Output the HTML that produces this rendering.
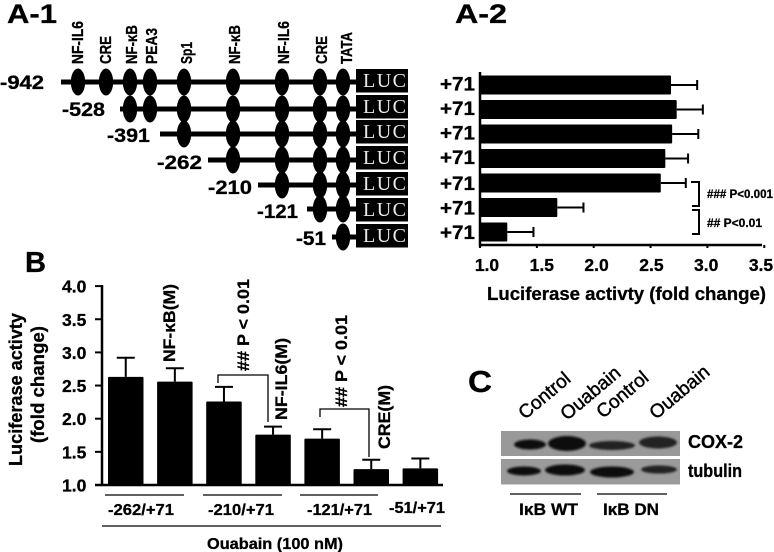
<!DOCTYPE html>
<html lang="en">
<head>
<meta charset="utf-8">
<title>Luciferase activity figure</title>
<style>
html,body{margin:0;padding:0;background:#fff;width:774px;height:552px;overflow:hidden}
svg{display:block}
text{font-family:"Liberation Sans",Arial,sans-serif;font-weight:bold;fill:#000;stroke:#000;stroke-width:.3}
text.reg{font-weight:normal;stroke-width:.45}
.thin{fill:none;stroke:#000;stroke-width:1.3}
.med{fill:none;stroke:#000;stroke-width:2}
</style>
</head>
<body>
<svg id="fig" xmlns="http://www.w3.org/2000/svg" width="774" height="552" viewBox="0 0 774 552">
<defs>
<filter id="soft" x="-20%" y="-60%" width="140%" height="220%"><feGaussianBlur stdDeviation="1.1"/></filter>
</defs>
<rect width="774" height="552" fill="#fff"/>

<text x="7" y="23" font-size="27" textLength="50" lengthAdjust="spacingAndGlyphs">A-1</text>
<text x="455" y="23" font-size="27" textLength="52" lengthAdjust="spacingAndGlyphs">A-2</text>
<text x="25" y="272" font-size="29" textLength="21" lengthAdjust="spacingAndGlyphs">B</text>
<text x="468" y="392" font-size="31" textLength="24" lengthAdjust="spacingAndGlyphs">C</text>

<g id="a1"></g>
<g id="a2"></g>

<text x="487" y="300" font-size="18.500" textLength="279" lengthAdjust="spacingAndGlyphs">Luciferase activty (fold change)</text>
<path class="med" d="M691 182H699V206H692"/>
<path class="med" d="M692 210H699V234H692"/>
<text x="707" y="198" font-size="12" textLength="66" lengthAdjust="spacingAndGlyphs">### P&lt;0.001</text>
<text x="707" y="227" font-size="12" textLength="55" lengthAdjust="spacingAndGlyphs">## P&lt;0.01</text>

<g id="b"></g>

<text transform="translate(22,466) rotate(-90)" font-size="18" textLength="153" lengthAdjust="spacingAndGlyphs">Luciferase activty</text>
<text transform="translate(44,443) rotate(-90)" font-size="18" textLength="117" lengthAdjust="spacingAndGlyphs">(fold change)</text>

<text transform="translate(175,362) rotate(-90)" font-size="17" textLength="78" lengthAdjust="spacingAndGlyphs">NF-κB(M)</text>
<text transform="translate(249,371) rotate(-90)" font-size="17" textLength="92" lengthAdjust="spacingAndGlyphs">## P &lt; 0.01</text>
<text transform="translate(287,420) rotate(-90)" font-size="17" textLength="82" lengthAdjust="spacingAndGlyphs">NF-IL6(M)</text>
<text transform="translate(347,407) rotate(-90)" font-size="17" textLength="92" lengthAdjust="spacingAndGlyphs">## P &lt; 0.01</text>
<text transform="translate(390,449) rotate(-90)" font-size="17" textLength="64" lengthAdjust="spacingAndGlyphs">CRE(M)</text>
<path class="thin" d="M218 383V375H268V422"/>
<path class="thin" d="M320 417V409H369V457"/>

<path class="thin" d="M105 495H184"/>
<path class="thin" d="M203 495H282"/>
<path class="thin" d="M300 495H378"/>
<path class="thin" d="M102 526H441"/>
<text x="207" y="549" font-size="16" textLength="136" lengthAdjust="spacingAndGlyphs">Ouabain (100 nM)</text>

<g id="blot">
<rect x="501" y="431" width="179" height="25" fill="#999"/>
<rect x="501" y="459" width="179" height="25.500" fill="#9b9b9b"/>
<g filter="url(#soft)" fill="#111">
<ellipse cx="530" cy="444.500" rx="16" ry="5"/>
<ellipse cx="567" cy="443.500" rx="19" ry="7.500"/>
<ellipse cx="612" cy="445.500" rx="23" ry="4.500" fill="#222"/>
<ellipse cx="658" cy="442.500" rx="19" ry="6" fill="#222"/>
<ellipse cx="524" cy="471" rx="17" ry="4.500"/>
<ellipse cx="565" cy="470" rx="20" ry="5.500"/>
<ellipse cx="612" cy="472" rx="22" ry="5.500"/>
<ellipse cx="659" cy="469.500" rx="18" ry="4" fill="#222"/>
</g>
</g>

<text class="reg" transform="translate(525,420) rotate(-40)" font-size="19">Control</text>
<text class="reg" transform="translate(567,421) rotate(-40)" font-size="19">Ouabain</text>
<text class="reg" transform="translate(603,419) rotate(-40)" font-size="19">Control</text>
<text class="reg" transform="translate(656,420) rotate(-40)" font-size="19">Ouabain</text>
<text x="688" y="448" font-size="18" textLength="55" lengthAdjust="spacingAndGlyphs">COX-2</text>
<text x="688" y="477" font-size="18" textLength="54" lengthAdjust="spacingAndGlyphs">tubulin</text>
<path class="thin" d="M510 494H581"/>
<path class="thin" d="M597 494H667"/>
<text x="519" y="515" font-size="17" textLength="59" lengthAdjust="spacingAndGlyphs">IκB WT</text>
<text x="603" y="515" font-size="17" textLength="56" lengthAdjust="spacingAndGlyphs">IκB DN</text>
</svg>

<script>
// Panel A-2 data
const a2RowLabels = ['+71', '+71', '+71', '+71', '+71', '+71', '+71'];
const a2Values = [2.68, 2.73, 2.69, 2.63, 2.59, 1.68, 1.24];
const a2Errors = [2.91, 2.96, 2.92, 2.83, 2.81, 1.91, 1.47];
const a2Ticks = [1.0, 1.5, 2.0, 2.5, 3.0, 3.5];

// Panel B data
const bCategories = ['-262/+71', '-262/+71 NF-kB(M)', '-210/+71', '-210/+71 NF-IL6(M)', '-121/+71', '-121/+71 CRE(M)', '-51/+71'];
const bValues = [2.63, 2.56, 2.26, 1.76, 1.70, 1.24, 1.25];
const bErrors = [2.92, 2.76, 2.48, 1.88, 1.84, 1.38, 1.40];
const bTicks = [1.0, 1.5, 2.0, 2.5, 3.0, 3.5, 4.0];
const bGroupLabels = ['-262/+71', '-210/+71', '-121/+71', '-51/+71'];

// Panel A-1 schematic
const siteNames = ['NF-IL6', 'CRE', 'NF-κB', 'PEA3', 'Sp1', 'NF-κB', 'NF-IL6', 'CRE', 'TATA'];
const constructLabels = ['-942', '-528', '-391', '-262', '-210', '-121', '-51'];
const constructFirstSite = [0, 2, 4, 5, 6, 7, 8];

const NS = 'http://www.w3.org/2000/svg';
function make(parent, tag, name, attrs) {
  const el = document.createElementNS(NS, tag);
  
  
  for (const k in attrs) el.setAttribute(k, attrs[k]);
  parent.appendChild(el);
  return el;
}
function label(parent, name, str, attrs) {
  const el = make(parent, 'text', name, attrs);
  el.textContent = str;
  return el;
}

/* ---------- A-1 ---------- */
(function () {
  const g = document.getElementById('a1');
  const siteX = [78, 106, 130, 150, 184, 233, 282, 320, 343];
  const siteLabelX = [83, 111, 137, 157, 192, 240, 289, 327, 352];
  const siteLabelLen = [43, 28, 39, 36, 22, 39, 43, 28, 32];
  const rowY = [82, 109, 134, 160, 185, 209, 237];
  const boxY = [69, 95, 120, 146, 172, 198, 224];
  const lineStart = [61, 120, 160, 208, 258, 307, 332];
  const labelX = [0, 62, 107, 157, 208, 257, 296];
  const labelLen = [44, 43, 43, 45, 44, 41, 30];
  const labelBase = [89, 116, 142, 169, 194, 218, 245];

  siteNames.forEach(function (s, i) {
    label(g, 'site-label-' + i, s, {
      transform: 'translate(' + siteLabelX[i] + ',64) rotate(-90)',
      'font-size': 16, textLength: siteLabelLen[i], lengthAdjust: 'spacingAndGlyphs'
    });
  });
  constructLabels.forEach(function (s, r) {
    label(g, 'construct-label' + s, s, {
      x: labelX[r], y: labelBase[r], 'font-size': 19,
      textLength: labelLen[r], lengthAdjust: 'spacingAndGlyphs'
    });
    make(g, 'rect', 'construct-line' + s, { x: lineStart[r], y: rowY[r] - 2.5, width: 358 - lineStart[r], height: 5, fill: '#000' });
    for (let i = constructFirstSite[r]; i < siteX.length; i++) {
      make(g, 'ellipse', 'site-' + r + '-' + i, { cx: siteX[i], cy: rowY[r], rx: 7.2, ry: 13.5, fill: '#000' });
    }
    make(g, 'rect', 'luc-box' + s, { x: 356, y: boxY[r], width: 52, height: 23.5, fill: '#000' });
    const t = label(g, 'luc-label' + s, 'LUC', {
      x: 363, y: boxY[r] + 18, 'font-size': 20, textLength: 43, lengthAdjust: 'spacing'
    });
    t.style.fontFamily = '"Liberation Serif",serif';
    t.style.fontWeight = 'normal';
    t.style.fill = '#e8e8e8';
    t.style.stroke = 'none';
  });
})();

/* ---------- A-2 ---------- */
(function () {
  const g = document.getElementById('a2');
  const x = function (v) { return 480 + (v - 1) * 113.7; };
  const tickLabelX = function (v) { return 487 + (v - 1) * 109.6; };
  const y = function (i) { return 85 + i * 24.5; };
  a2Values.forEach(function (v, i) {
    const cy = y(i);
    make(g, 'path', 'a2-error-' + i, {
      d: 'M' + x(v) + ' ' + cy + 'H' + x(a2Errors[i]) + 'M' + x(a2Errors[i]) + ' ' + (cy - 5) + 'V' + (cy + 5),
      fill: 'none', stroke: '#000', 'stroke-width': 2
    });
    make(g, 'rect', 'a2-bar-' + i, { x: x(1), y: cy - 9.5, width: x(v) - x(1), height: 19, rx: 1, fill: '#000' });
    label(g, 'a2-row-label-' + i, a2RowLabels[i], {
      x: 440, y: cy + 5.5 + (i > 3 ? 1.5 : 0), 'font-size': 19, textLength: 35, lengthAdjust: 'spacingAndGlyphs'
    });
  });
  make(g, 'path', 'a2-y-axis', { d: 'M480 72V247', fill: 'none', stroke: '#000', 'stroke-width': 2.5 });
  make(g, 'path', 'a2-x-axis', { d: 'M479 245H762', fill: 'none', stroke: '#000', 'stroke-width': 2.5 });
  a2Ticks.forEach(function (t, i) {
    make(g, 'path', 'a2-x-tick-' + i, { d: 'M' + x(t) + ' 245V248', fill: 'none', stroke: '#000', 'stroke-width': 2 });
    label(g, 'a2-x-tick-label-' + i, t.toFixed(1), {
      x: tickLabelX(t), y: 271, 'font-size': 17.5, 'text-anchor': 'middle'
    });
  });
})();

/* ---------- B ---------- */
(function () {
  const g = document.getElementById('b');
  const y = function (v) { return 485 - (v - 1) * 66.3; };
  const xLeft = function (i) { return 108 + i * 49.1; };
  const w = 35.5;
  bValues.forEach(function (v, i) {
    const cx = xLeft(i) + w / 2;
    make(g, 'path', 'b-error-' + i, {
      d: 'M' + cx + ' ' + y(v) + 'V' + y(bErrors[i]) + 'M' + (cx - 9) + ' ' + y(bErrors[i]) + 'H' + (cx + 9),
      fill: 'none', stroke: '#000', 'stroke-width': 2
    });
    make(g, 'rect', 'b-bar-' + i, { x: xLeft(i), y: y(v), width: w, height: y(1) - y(v), rx: 1, fill: '#000' }).setAttribute('aria-label', bCategories[i]);
  });
  make(g, 'path', 'b-y-axis', { d: 'M102 285V486', fill: 'none', stroke: '#000', 'stroke-width': 2.5 });
  make(g, 'path', 'b-x-axis', { d: 'M95 485H443', fill: 'none', stroke: '#000', 'stroke-width': 2.5 });
  bTicks.forEach(function (t, i) {
    make(g, 'path', 'b-y-tick-' + i, { d: 'M95 ' + y(t) + 'H102', fill: 'none', stroke: '#000', 'stroke-width': 2 });
    label(g, 'b-y-tick-label-' + i, t.toFixed(1), {
      x: 62, y: y(t) + 6.5, 'font-size': 17.5
    });
  });
  const gx = [108, 208, 307, 389];
  const gw = [66, 66, 65, 56];
  const gy = [515, 515, 515, 513];
  bGroupLabels.forEach(function (s, i) {
    label(g, 'b-group-label' + s, s, {
      x: gx[i], y: gy[i], 'font-size': 16, textLength: gw[i], lengthAdjust: 'spacingAndGlyphs'
    });
  });
})();
</script>
</body>
</html>
